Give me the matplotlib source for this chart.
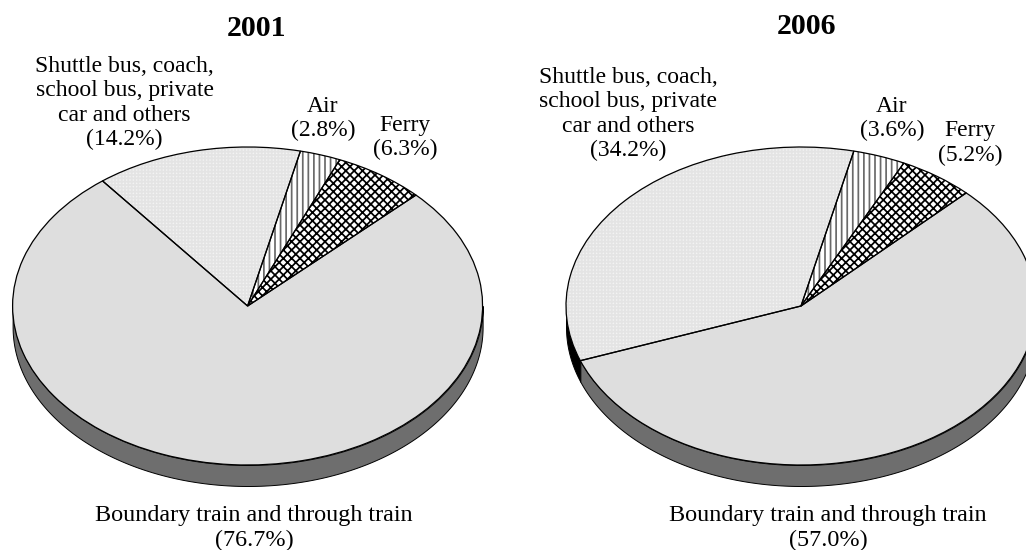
import numpy as np
import matplotlib as mpl
mpl.use("Agg")
import matplotlib.pyplot as plt

plt.rcParams["font.family"] = ["Liberation Serif", "DejaVu Serif"]
plt.rcParams["hatch.linewidth"] = 1.25

W, H = 1026, 550

# counter-clockwise from the start angle
categories = ["Shuttle bus, coach,\nschool bus, private\ncar and others", "Boundary train and through train", "Ferry", "Air"]
values_2001 = [14.2, 76.7, 6.3, 2.8]
values_2006 = [34.2, 57.0, 5.2, 3.6]
years = ["2001", "2006"]

face_colors = ["#f3f3f3", "#dedede", "white", "white"]
hatches = ["+++++", None, "xxxx", "|||"]
hatch_colors = ["#e4e4e4", "#dedede", "black", "#6a6a6a"]
side_colors = ["black", "#6e6e6e", "#6e6e6e", "#6e6e6e"]

START = 77
DEPTH = 21 / 159

fig = plt.figure(figsize=(W / 100, H / 100), dpi=100)


def px_axes(left, right, top, bottom):
    return fig.add_axes([left / W, 1 - bottom / H, (right - left) / W, (bottom - top) / H])


def label(x, y, s, size=17, spacing=1.2, **kw):
    fig.text(x / W, 1 - y / H, s, ha="center", va="center", fontsize=size, linespacing=spacing, **kw)


def draw_pie(ax, values):
    edges = START + np.cumsum([0] + values) * 3.6
    # side wall, front half only
    for i in range(len(values)):
        a, b = max(edges[i], 180), min(edges[i + 1], 360)
        if a < b:
            t = np.radians(np.linspace(a, b, 200))
            ax.fill_between(np.cos(t), np.sin(t), np.sin(t) - DEPTH, facecolor=side_colors[i],
                            edgecolor="black", linewidth=0.7, clip_on=False)
    # pattern first, then the black outlines on top
    wedges, _ = ax.pie(values, startangle=START, colors=face_colors, wedgeprops={"clip_on": False})
    for w, h, c in zip(wedges, hatches, hatch_colors):
        w.set_edgecolor(c)
        w.set_linewidth(0)
        w.set_hatch(h)
    ax.pie(values, startangle=START, colors=["none"] * 4,
           wedgeprops={"edgecolor": "black", "linewidth": 0.9, "clip_on": False})
    ax.set_aspect("auto")
    ax.set_xlim(-1, 1)
    ax.set_ylim(-1 - DEPTH, 1)


ax1 = px_axes(12.6, 482.6, 147, 486)
draw_pie(ax1, values_2001)
ax2 = px_axes(566, 1036, 147, 486)
draw_pie(ax2, values_2006)

label(257, 28, years[0], size=21.5, fontweight="bold")
label(807, 27, years[1], size=21.5, fontweight="bold")

label(124.5, 103, categories[0] + "\n(%.1f%%)" % values_2001[0])
label(323, 118.5, "%s\n(%.1f%%)" % (categories[3], values_2001[3]))
label(405, 137.5, "%s\n(%.1f%%)" % (categories[2], values_2001[2]))
label(254, 528, "%s\n(%.1f%%)" % (categories[1], values_2001[1]), size=17.4, spacing=1.25)

label(628, 114, categories[0] + "\n(%.1f%%)" % values_2006[0])
label(892, 118.5, "%s\n(%.1f%%)" % (categories[3], values_2006[3]))
label(970, 143, "%s\n(%.1f%%)" % (categories[2], values_2006[2]))
label(828, 528, "%s\n(%.1f%%)" % (categories[1], values_2006[1]), size=17.4, spacing=1.25)

fig.savefig("out.png", dpi=100)
